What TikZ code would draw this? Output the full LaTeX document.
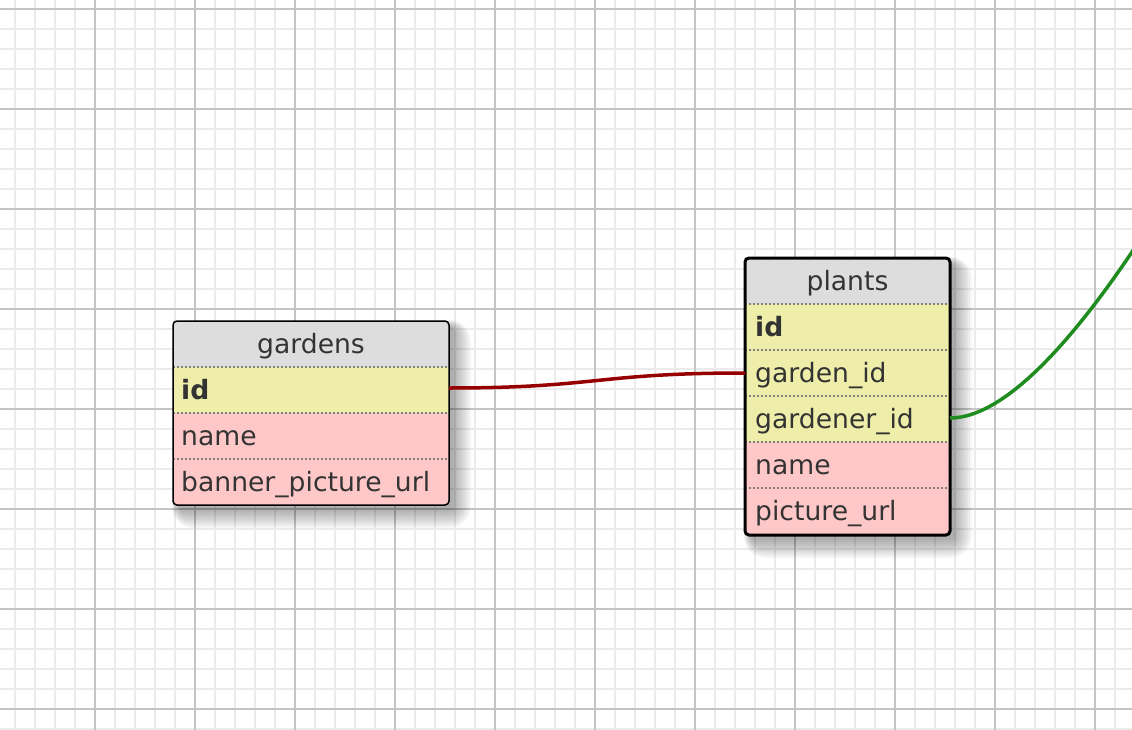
\documentclass[tikz,border=0pt]{standalone}
\usepackage{fontspec}
\setmainfont{DejaVu Sans}
\definecolor{gridminor}{HTML}{EBEBEB}
\definecolor{gridmajor}{HTML}{C4C4C4}
\definecolor{headfill}{HTML}{DDDDDD}
\definecolor{keyfill}{HTML}{EEEEAA}
\definecolor{plainfill}{HTML}{FFC8C8}
\definecolor{txt}{HTML}{333333}
\definecolor{sepc}{HTML}{808080}
\definecolor{relred}{HTML}{960000}
\definecolor{relgreen}{HTML}{1E8C1E}
\tikzset{
  minorgrid/.style={draw=gridminor, line width=1.5pt},
  majorgrid/.style={draw=gridmajor, line width=1.5pt},
  cell/.style={anchor=north west, inner sep=0pt, outer sep=0pt, minimum height=46pt},
  celltext/.style={anchor=base west, inner sep=0pt, text=txt, font=\fontsize{26.6}{30}\selectfont},
  headtext/.style={anchor=base, inner sep=0pt, text=txt, font=\fontsize{26.6}{30}\selectfont},
  sepline/.style={draw=sepc, line width=1.5pt, dash pattern=on 2pt off 2pt},
  tableborder/.style={draw=black, rounded corners=4pt},
  relation/.style={line width=3.5pt},
}
% row: name, x0, ytop, width, fill, text, text indent
\newcommand\dbrow[7]{%
  \node[cell, fill=#5, minimum width=#4pt] (#1) at (#2,#3) {};
  \node[celltext] (#1-t) at ([xshift=#7pt, yshift=-32.5pt]#1.north west) {#6};
}
\newcommand\dbhead[6]{%
  \node[cell, fill=#5, minimum width=#4pt] (#1) at (#2,#3) {};
  \node[headtext] (#1-t) at ([yshift=-32.5pt]#1.north) {#6};
}
\newcommand\tshadow[4]{%
  \foreach \r in {18,16,...,0}{
    \fill[black, opacity=0.035, rounded corners=\r pt+4pt]
      (#1+6-0.4*\r, #3+6-0.4*\r) rectangle (#2+4+\r, #4+5+\r);
  }
}
\begin{document}
\begin{tikzpicture}[x=1pt, y=-1pt]
\useasboundingbox (0,0) rectangle (1132,730);
\begin{scope}
  \clip (0,0) rectangle (1132,730);
  \fill[white] (0,0) rectangle (1132,730);
  \foreach \x in {15,35,...,1135} \draw[minorgrid] (\x,0) -- (\x,730);
  \foreach \y in {9,29,...,729} \draw[minorgrid] (0,\y) -- (1132,\y);
  \foreach \x in {95,195,...,1095} \draw[majorgrid] (\x,0) -- (\x,730);
  \foreach \y in {9,109,...,709} \draw[majorgrid] (0,\y) -- (1132,\y);

  % shadows
  \tshadow{173}{449}{321}{505}
  \tshadow{745}{950}{258}{535}

  % gardens table
  \begin{scope}
    \clip[rounded corners=4pt] (173,321) rectangle (449,505);
    \dbhead{g-head}{173}{321}{276}{headfill}{gardens}
    \dbrow{g-id}{173}{367}{276}{keyfill}{\bfseries id}{8}
    \dbrow{g-name}{173}{413}{276}{plainfill}{name}{8}
    \dbrow{g-banner}{173}{459}{276}{plainfill}{banner\_picture\_url}{8}
  \end{scope}
  \draw[sepline] (g-id.north west) -- (g-id.north east);
  \draw[sepline] (g-name.north west) -- (g-name.north east);
  \draw[sepline] (g-banner.north west) -- (g-banner.north east);
  \draw[tableborder, line width=1.5pt] (173,321) rectangle (449,505);

  % plants table
  \begin{scope}
    \clip[rounded corners=4pt] (745,258) rectangle (950,535);
    \dbhead{p-head}{745}{258}{205}{headfill}{plants}
    \dbrow{p-id}{745}{304}{205}{keyfill}{\bfseries id}{10}
    \dbrow{p-gardenid}{745}{350}{205}{keyfill}{garden\_id}{10}
    \dbrow{p-gardenerid}{745}{396}{205}{keyfill}{gardener\_id}{10}
    \dbrow{p-name}{745}{442}{205}{plainfill}{name}{10}
    \dbrow{p-picture}{745}{488}{205}{plainfill}{picture\_url}{10}
  \end{scope}
  \foreach \n in {p-id,p-gardenid,p-gardenerid,p-name,p-picture}
    \draw[sepline] (\n.north west) -- (\n.north east);
  \draw[tableborder, line width=3pt] (745,258) rectangle (950,535);

  % relations
  \draw[relation, relred] ([yshift=2pt]g-id.east) .. controls (597,388) and (597,373) .. (p-gardenid.west);
  \coordinate (gardenersEnd) at (1136,246);
  \draw[relation, relgreen] ([yshift=1pt]p-gardenerid.east) .. controls (1010,418) and (1084,324) .. (gardenersEnd);
\end{scope}
\end{tikzpicture}
\end{document}
